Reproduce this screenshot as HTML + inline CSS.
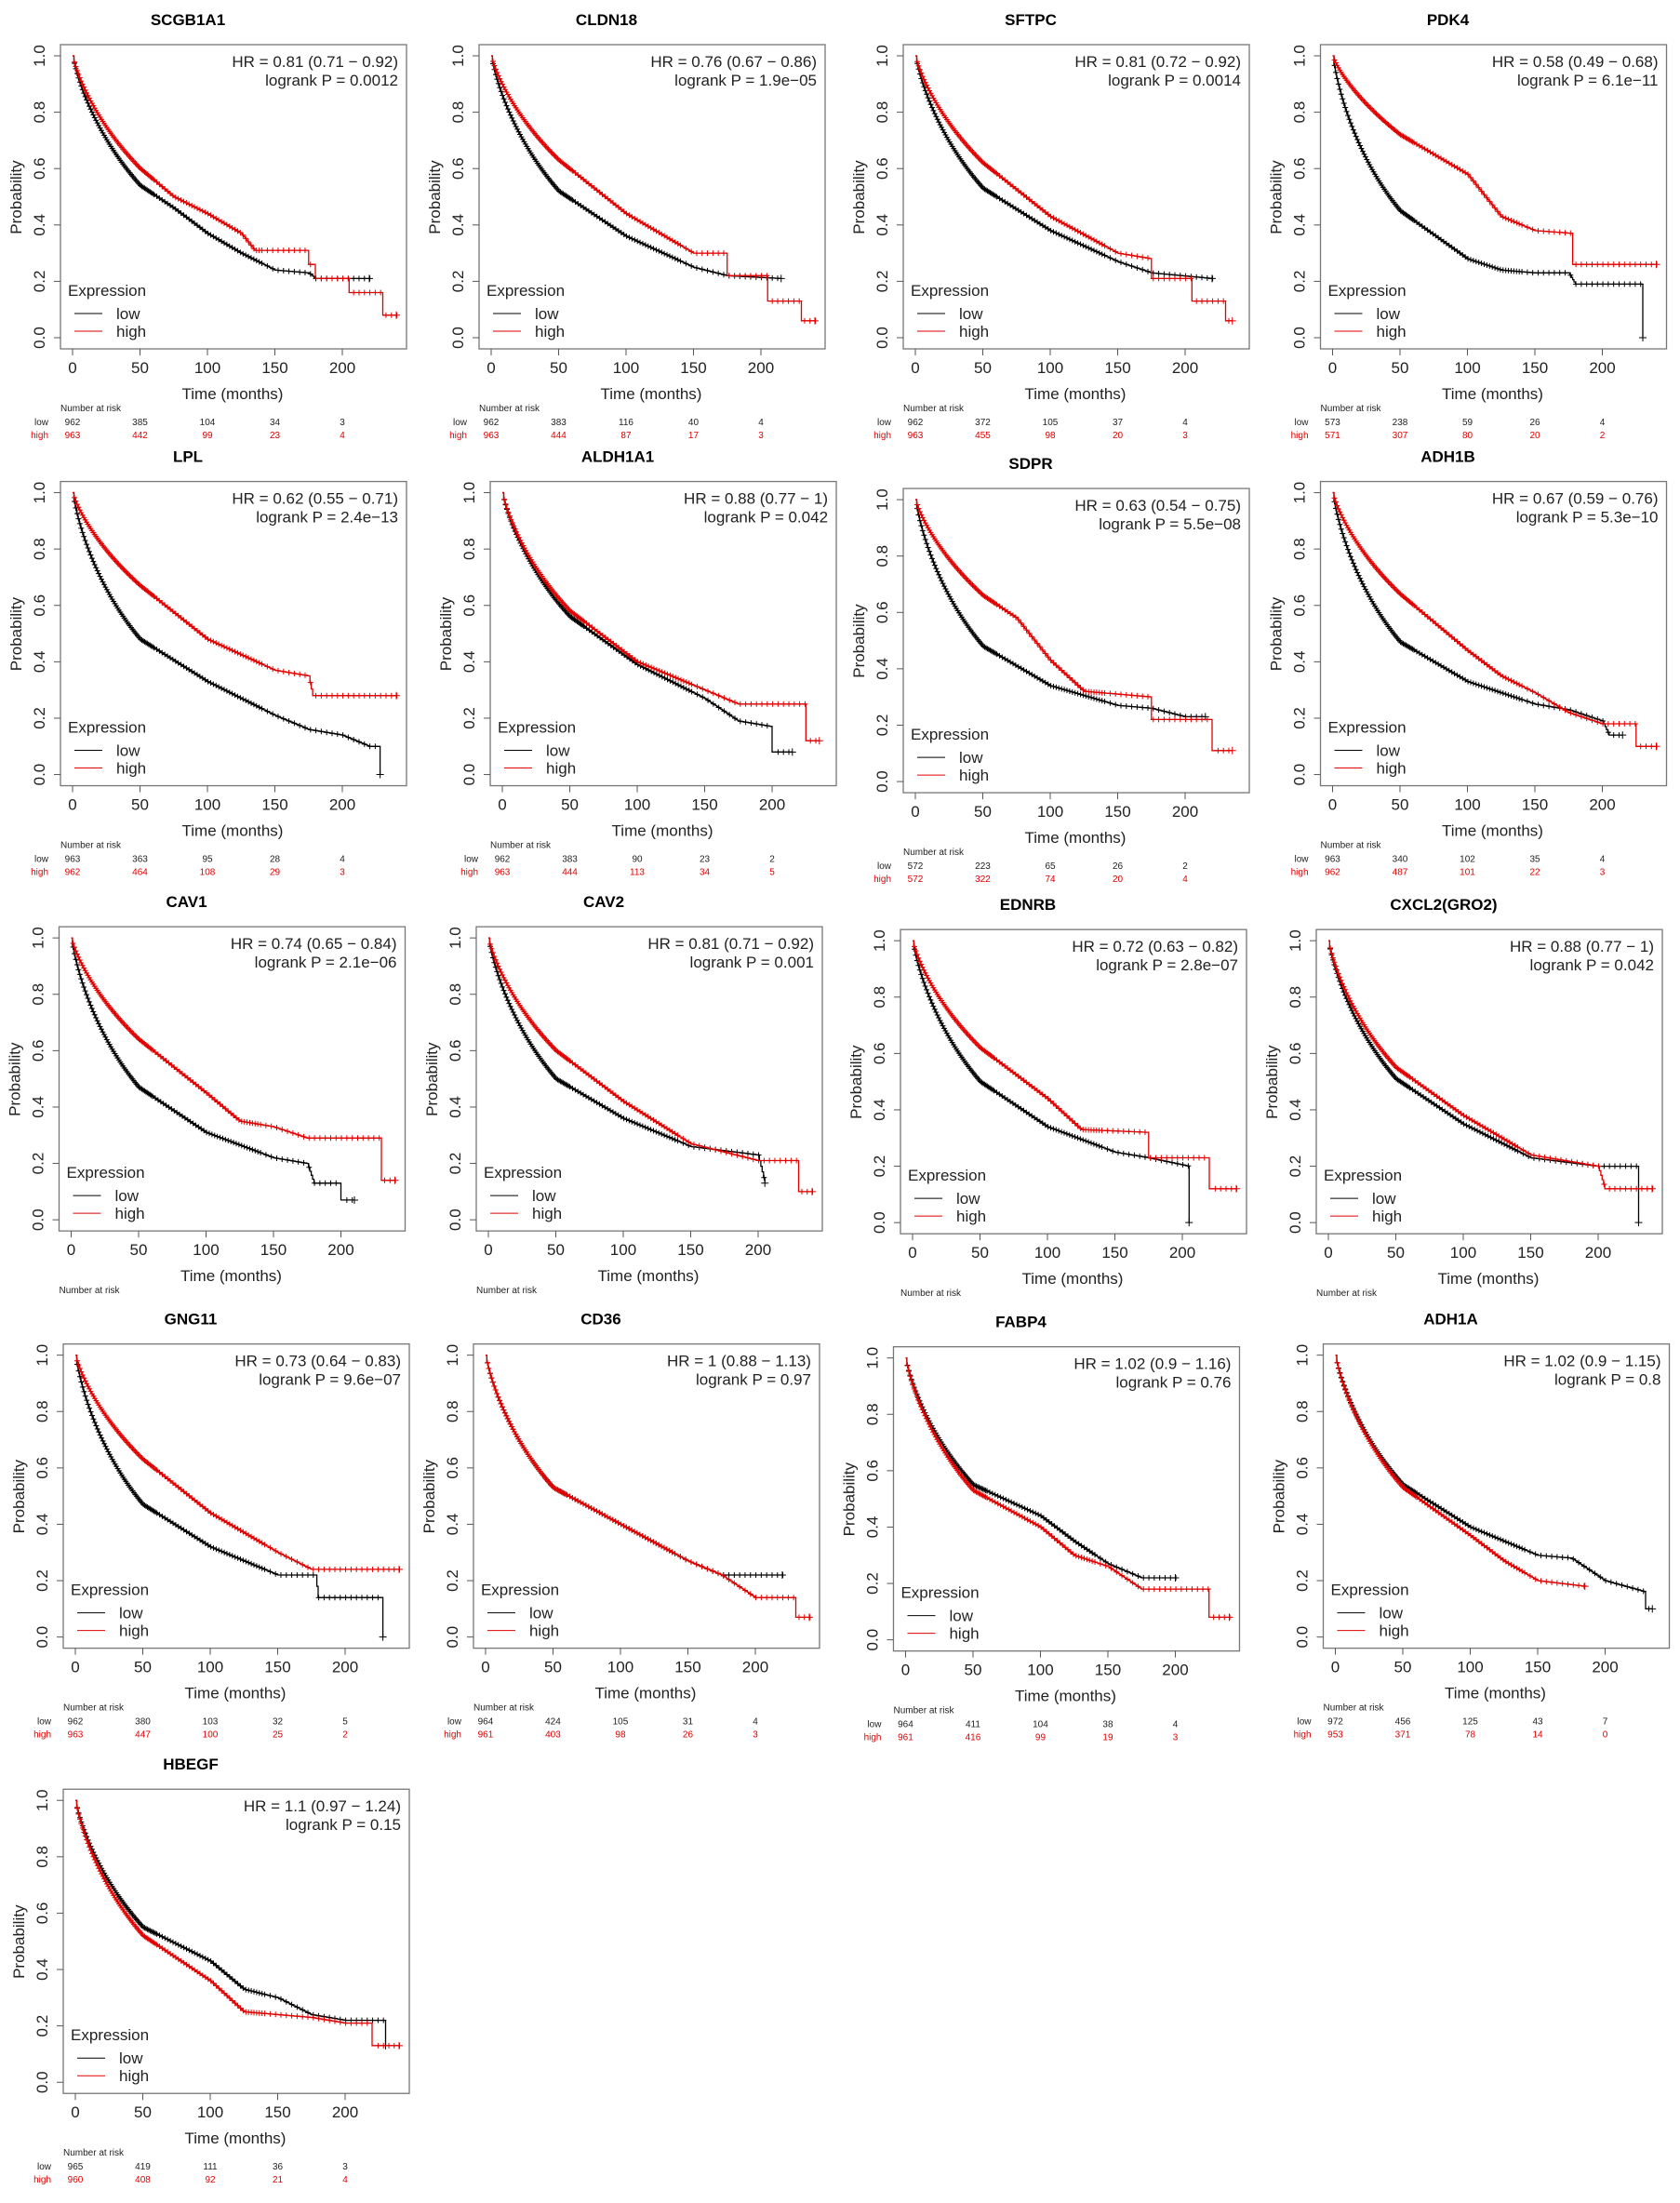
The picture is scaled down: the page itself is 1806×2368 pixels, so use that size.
<!DOCTYPE html>
<html><head><meta charset="utf-8"><style>
html,body{margin:0;padding:0;background:#fff;}
svg text{font-family:"Liberation Sans",Arial,sans-serif;}
</style></head><body>
<svg id="s" xmlns="http://www.w3.org/2000/svg" width="1806" height="2363" viewBox="0 0 1806 2363"><rect width="1806" height="2363" fill="#fff"/></svg>
<script>
var P=[
{n:"SCGB1A1",L:43,Y:40,hr:"HR = 0.81 (0.71 \u2212 0.92)",p:"logrank P = 0.0012",
 h:[[50,.6],[75,.5],[100,.44],[125,.37],[135,.31],[175,.31],[175,.26],[180,.26],[180,.21],[205,.21],[205,.16],[230,.16],[230,.08],[240,.08]],
 l:[[50,.54],[75,.46],[100,.37],[125,.3],[150,.24],[175,.23],[180,.21],[220,.21]],
 nl:[962,385,104,34,3],nh:[963,442,99,23,4]},
{n:"CLDN18",L:342,Y:40,hr:"HR = 0.76 (0.67 \u2212 0.86)",p:"logrank P = 1.9e\u221205",
 h:[[50,.63],[100,.44],[150,.3],[175,.3],[175,.22],[205,.22],[205,.13],[230,.13],[230,.06],[240,.06]],
 l:[[50,.52],[100,.36],[150,.25],[175,.22],[215,.21]],nl:[962,383,116,40,4],nh:[963,444,87,17,3]},
{n:"SFTPC",L:645,Y:40,hr:"HR = 0.81 (0.72 \u2212 0.92)",p:"logrank P = 0.0014",
 h:[[50,.62],[100,.43],[150,.3],[175,.28],[175,.21],[205,.21],[205,.13],[230,.13],[230,.06],[235,.06]],
 l:[[50,.53],[100,.38],[150,.27],[175,.23],[220,.21]],nl:[962,372,105,37,4],nh:[963,455,98,20,3]},
{n:"PDK4",L:943,Y:40,hr:"HR = 0.58 (0.49 \u2212 0.68)",p:"logrank P = 6.1e\u221211",
 h:[[50,.72],[100,.58],[125,.43],[150,.38],[178,.37],[178,.26],[240,.26]],
 l:[[50,.45],[100,.28],[125,.24],[150,.23],[175,.23],[180,.19],[230,.19],[230,0]],nl:[573,238,59,26,4],nh:[571,307,80,20,2]},
{n:"LPL",L:43,Y:352,hr:"HR = 0.62 (0.55 \u2212 0.71)",p:"logrank P = 2.4e\u221213",
 h:[[50,.67],[100,.48],[150,.37],[175,.35],[178,.28],[240,.28]],
 l:[[50,.48],[100,.33],[150,.21],[175,.16],[200,.14],[220,.1],[228,.1],[228,0]],nl:[963,363,95,28,4],nh:[962,464,108,29,3]},
{n:"ALDH1A1",L:350,Y:352,hr:"HR = 0.88 (0.77 \u2212 1)",p:"logrank P = 0.042",
 h:[[50,.58],[100,.4],[150,.3],[175,.25],[225,.25],[225,.12],[235,.12]],
 l:[[50,.56],[100,.39],[150,.27],[175,.19],[200,.17],[200,.08],[215,.08]],nl:[962,383,90,23,2],nh:[963,444,113,34,5]},
{n:"SDPR",L:645,Y:357,hr:"HR = 0.63 (0.54 \u2212 0.75)",p:"logrank P = 5.5e\u221208",
 h:[[50,.66],[75,.58],[100,.43],[125,.32],[175,.3],[175,.22],[220,.22],[220,.11],[235,.11]],
 l:[[50,.48],[100,.34],[150,.27],[175,.26],[200,.23],[215,.23]],nl:[572,223,65,26,2],nh:[572,322,74,20,4]},
{n:"ADH1B",L:943,Y:352,hr:"HR = 0.67 (0.59 \u2212 0.76)",p:"logrank P = 5.3e\u221210",
 h:[[50,.64],[100,.44],[125,.35],[150,.29],[175,.22],[200,.18],[225,.18],[225,.1],[240,.1]],
 l:[[50,.47],[100,.33],[150,.25],[175,.23],[200,.19],[205,.14],[215,.14]],nl:[963,340,102,35,4],nh:[962,487,101,22,3]},
{n:"CAV1",L:42,Y:670,hr:"HR = 0.74 (0.65 \u2212 0.84)",p:"logrank P = 2.1e\u221206",
 h:[[50,.64],[100,.45],[125,.35],[150,.33],[175,.29],[230,.29],[230,.14],[240,.14]],
 l:[[50,.47],[100,.31],[150,.22],[175,.2],[180,.13],[200,.13],[200,.07],[210,.07]],nl:null},
{n:"CAV2",L:340,Y:670,hr:"HR = 0.81 (0.71 \u2212 0.92)",p:"logrank P = 0.001",
 h:[[50,.6],[100,.42],[150,.27],[175,.24],[200,.21],[230,.21],[230,.1],[240,.1]],
 l:[[50,.5],[100,.36],[150,.26],[200,.23],[205,.13],[205,.13]],nl:null},
{n:"EDNRB",L:643,Y:672,hr:"HR = 0.72 (0.63 \u2212 0.82)",p:"logrank P = 2.8e\u221207",
 h:[[50,.62],[100,.44],[125,.33],[175,.32],[175,.23],[220,.23],[220,.12],[240,.12]],
 l:[[50,.5],[100,.34],[150,.25],[175,.23],[205,.2],[205,0]],nl:null},
{n:"CXCL2(GRO2)",L:940,Y:672,hr:"HR = 0.88 (0.77 \u2212 1)",p:"logrank P = 0.042",
 h:[[50,.55],[100,.38],[150,.24],[200,.2],[205,.12],[240,.12]],
 l:[[50,.51],[100,.35],[150,.23],[200,.2],[230,.2],[230,0]],nl:null},
{n:"GNG11",L:45,Y:968,hr:"HR = 0.73 (0.64 \u2212 0.83)",p:"logrank P = 9.6e\u221207",
 h:[[50,.63],[100,.44],[150,.3],[175,.24],[240,.24]],
 l:[[50,.47],[100,.32],[150,.22],[178,.22],[180,.14],[228,.14],[228,0]],nl:[962,380,103,32,5],nh:[963,447,100,25,2]},
{n:"CD36",L:338,Y:968,hr:"HR = 1 (0.88 \u2212 1.13)",p:"logrank P = 0.97",
 h:[[50,.53],[100,.4],[150,.27],[175,.22],[200,.14],[230,.14],[230,.07],[240,.07]],
 l:[[50,.53],[100,.4],[150,.27],[175,.22],[220,.22]],nl:[964,424,105,31,4],nh:[961,403,98,26,3]},
{n:"FABP4",L:638,Y:970,hr:"HR = 1.02 (0.9 \u2212 1.16)",p:"logrank P = 0.76",
 h:[[50,.53],[100,.4],[125,.3],[150,.26],[175,.18],[225,.18],[225,.08],[240,.08]],
 l:[[50,.55],[100,.44],[125,.35],[150,.27],[175,.22],[200,.22]],nl:[964,411,104,38,4],nh:[961,416,99,19,3]},
{n:"ADH1A",L:945,Y:968,hr:"HR = 1.02 (0.9 \u2212 1.15)",p:"logrank P = 0.8",
 h:[[50,.53],[100,.36],[125,.27],[150,.2],[185,.18]],
 l:[[50,.54],[100,.39],[150,.29],[175,.28],[200,.2],[230,.16],[230,.1],[235,.1]],nl:[972,456,125,43,7],nh:[953,371,78,14,0]},
{n:"HBEGF",L:45,Y:1286,hr:"HR = 1.1 (0.97 \u2212 1.24)",p:"logrank P = 0.15",
 h:[[50,.52],[100,.36],[125,.25],[175,.23],[200,.21],[220,.21],[220,.13],[240,.13]],
 l:[[50,.55],[100,.43],[125,.33],[150,.3],[175,.24],[200,.22],[230,.22],[230,.13]],nl:[965,419,111,36,3],nh:[960,408,92,21,4]}
];
var o=[];
function T(x,y,s,sz,ex){o.push('<text x="'+x+'" y="'+y+'" font-size="'+sz+'" '+(ex||'')+'>'+s+'</text>');}
function val(pts,t){ // pts starting at t=50
  var s50=pts[0][1];
  if(t<=50){var k=-Math.log(s50)/Math.pow(50,0.8);return Math.exp(-k*Math.pow(t,0.8));}
  for(var i=0;i<pts.length-1;i++){var a=pts[i],b=pts[i+1];if(t>=a[0]&&t<=b[0]){if(b[0]==a[0])return a[1];return a[1]+(b[1]-a[1])*(t-a[0])/(b[0]-a[0]);}}
  return pts[pts.length-1][1];
}
function curve(pts,X,Yf,col){
  var end=pts[pts.length-1][0];var d="M"+X(0)+","+Yf(1);var prev=1;var marks="";
  // steps
  var drops=[];for(var i=0;i<pts.length-1;i++)if(pts[i][0]==pts[i+1][0])drops.push(i);
  for(var t=1;t<=end;t+=1){
    var v;
    var di=-1;for(var j=0;j<drops.length;j++){if(pts[drops[j]][0]==t)di=drops[j];}
    v=val(pts,t);
    if(di>=0){d+="H"+X(t).toFixed(1)+"V"+Yf(pts[di][1]).toFixed(1)+"V"+Yf(pts[di+1][1]).toFixed(1);prev=pts[di+1][1];continue;}
    d+="H"+X(t).toFixed(1)+"V"+Yf(v).toFixed(1);prev=v;
    var step=t<60?1:(t<140?2:4);
    if(t%step==0){var x=X(t+0.4),y=Yf(v);marks+="M"+(x-3)+","+y+"h6M"+x+","+(y-3)+"v6";}
  }
  d+="H"+X(end).toFixed(1);
  var x=X(end),y=Yf(pts[pts.length-1][1]);marks+="M"+(x-4)+","+y+"h8M"+x+","+(y-4)+"v8";
  o.push('<path d="'+d+'" fill="none" stroke="'+col+'" stroke-width="1.3"/>');
  o.push('<path d="'+marks+'" fill="none" stroke="'+col+'" stroke-width="1"/>');
}
P.forEach(function(q){
  var dx=(q.L-43)*1.505, dy=(q.Y-40)*1.505;
  var X=function(t){return dx+78+t*1.45;}, Yf=function(s){return dy+363-s*303;};
  T(dx+202,dy+27,q.n,17,'font-weight="bold" text-anchor="middle"');
  o.push('<rect x="'+(dx+65)+'" y="'+(dy+48)+'" width="372" height="327" fill="none" stroke="#777" stroke-width="1.3"/>');
  for(var i=0;i<=4;i++){var x=X(i*50);o.push('<line x1="'+x+'" y1="'+(dy+375)+'" x2="'+x+'" y2="'+(dy+382)+'" stroke="#555"/>');T(x,dy+401,i*50,17,'text-anchor="middle" fill="#222"');}
  for(var i=0;i<=5;i++){var y=Yf(i*0.2);o.push('<line x1="'+(dx+58)+'" y1="'+y+'" x2="'+(dx+65)+'" y2="'+y+'" stroke="#555"/>');T(0,0,(i*0.2).toFixed(1),17,'text-anchor="middle" fill="#222" transform="translate('+(dx+48)+','+y+') rotate(-90)"');}
  T(0,0,"Probability",17,'text-anchor="middle" fill="#222" transform="translate('+(dx+23)+','+(dy+212)+') rotate(-90)"');
  T(dx+250,dy+429,"Time (months)",17,'text-anchor="middle" fill="#222"');
  T(dx+428,dy+72,q.hr,17,'text-anchor="end" fill="#222"');
  T(dx+428,dy+92,q.p,17,'text-anchor="end" fill="#222"');
  curve(q.l,X,Yf,"#000");curve(q.h,X,Yf,"#e00000");
  T(dx+73,dy+318,"Expression",17,'fill="#222"');
  o.push('<line x1="'+(dx+80)+'" y1="'+(dy+337)+'" x2="'+(dx+110)+'" y2="'+(dy+337)+'" stroke="#000"/>');
  o.push('<line x1="'+(dx+80)+'" y1="'+(dy+356)+'" x2="'+(dx+110)+'" y2="'+(dy+356)+'" stroke="#e00000"/>');
  T(dx+125,dy+343,"low",17,'fill="#222"');T(dx+125,dy+362,"high",17,'fill="#222"');
  T(dx+65,dy+442,"Number at risk",10,'fill="#222"');
  if(q.nl){T(dx+52,dy+457,"low",10,'text-anchor="end" fill="#222"');T(dx+52,dy+471,"high",10,'text-anchor="end" fill="#e00000"');
    for(var i=0;i<5;i++){T(X(i*50),dy+457,q.nl[i],10,'text-anchor="middle" fill="#222"');T(X(i*50),dy+471,q.nh[i],10,'text-anchor="middle" fill="#e00000"');}}
});
document.getElementById('s').insertAdjacentHTML('beforeend',o.join(''));
</script>
</body></html>
